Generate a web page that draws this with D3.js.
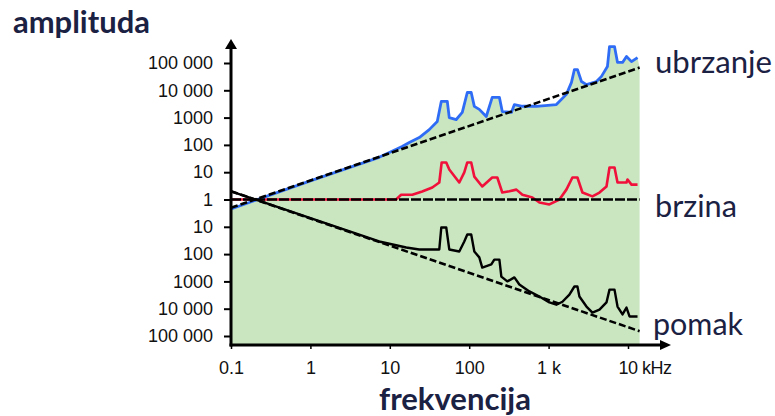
<!DOCTYPE html>
<html>
<head>
<meta charset="utf-8">
<script src="https://cdn.jsdelivr.net/npm/d3@7"></script>
<style>
  html, body { margin: 0; padding: 0; background: #ffffff; }
  svg { display: block; }
</style>
</head>
<body>
<svg id="chart" width="775" height="416"></svg>
<script>
// ---------------- data ----------------
const xTickValues = [0.1, 1, 10, 100, 1000, 10000];
const xTickLabels = ["0.1", "1", "10", "100", "1 k", "10 kHz"];
const yTickValues = [1e5, 1e4, 1e3, 1e2, 1e1, 1, 1e-1, 1e-2, 1e-3, 1e-4, 1e-5];
const yTickLabels = ["100 000", "10 000", "1000", "100", "10", "1", "10", "100", "1000", "10 000", "100 000"];

// measured acceleration (ubrzanje)
const accelFreq = [0.1, 1, 7.35, 14.3, 17.6, 23.5, 31.4, 39.6, 44.5, 53, 56.1, 68.7, 81.8, 94.6, 106, 116, 134, 164, 195, 240, 261, 340, 371, 468, 701, 1253, 1675, 1941, 2113, 2307, 2594, 2999, 4009, 4634, 5508, 5848, 6761, 7379, 8531, 9572, 11066, 13183];
const accelAmp  = [0.45, 4.8, 35, 87, 123, 186, 363, 724, 3900, 3900, 1000, 850, 1550, 8300, 8300, 2570, 2000, 1100, 5500, 5500, 1660, 1550, 3000, 2600, 2600, 3000, 7100, 19500, 57500, 57500, 21000, 16200, 21000, 32400, 74000, 400000, 400000, 105000, 105000, 174000, 112000, 158000];

// measured velocity (brzina)
const velFreq = [0.1, 12, 13.9, 19.2, 25.6, 34.3, 42, 45, 51.4, 56.1, 75, 86.7, 94.6, 106, 116, 146, 195, 226, 261, 321, 393, 468, 625, 766, 1023, 1368, 1675, 1995, 2307, 2667, 3565, 4375, 5358, 5848, 6761, 7379, 9572, 9863, 11066, 13183];
const velAmp  = [1, 1, 1.5, 1.5, 1.96, 2.75, 4.2, 22.7, 22.7, 12.6, 4.2, 9.8, 22.7, 22.7, 6.9, 3.0, 6.4, 6.4, 1.8, 2.0, 2.3, 1.5, 1.18, 0.78, 0.66, 1.0, 2.3, 6.4, 6.4, 1.8, 1.3, 1.8, 3.0, 14.8, 14.8, 4.2, 4.2, 5.4, 3.5, 3.5];

// measured displacement (pomak)
const dispFreq = [0.1, 7.35, 16.1, 23.5, 42, 44.5, 51.4, 56.1, 75, 86.7, 94.6, 106, 116, 134, 146, 190, 207, 240, 254, 302, 371, 428, 573, 766, 1023, 1253, 1493, 1828, 2113, 2307, 2444, 2999, 3565, 4375, 5358, 5848, 6761, 7379, 8531, 9572, 10450, 13183];
const dispAmp  = [2, 0.029, 0.0174, 0.0148, 0.0148, 0.094, 0.094, 0.0148, 0.0125, 0.029, 0.052, 0.052, 0.0125, 0.0076, 0.0032, 0.0042, 0.0063, 0.0063, 0.0015, 0.001, 0.0014, 0.00077, 0.00043, 0.00028, 0.00017, 0.00014, 0.00018, 0.00033, 0.00065, 0.00065, 0.00028, 0.00012, 0.000072, 0.000093, 0.00017, 0.0005, 0.0005, 0.00012, 0.000062, 0.00011, 0.000052, 0.000052];

// reference trend lines (dashed)
const trendFreq   = [0.1, 14000];
const accelTrend  = [0.5, 68000];
const velTrend    = [1, 1];
const dispTrend   = [2, 1.5e-5];

// end of the shaded band
const bandEndFreq = 14000;
const bandEndAmp  = 68000;

// ---------------- layout ----------------
const svg = d3.select("#chart");
const AXIS_X = 231, AXIS_Y = 345;

const x = d3.scaleLog().domain([0.1, 10000]).range([231, 628]);
const y = d3.scaleLog().domain([1e-5, 1e5]).range([336, 63]);

const zip = (fs, as) => fs.map((f, i) => ({ f, a: as[i] }));

// green band under the measured acceleration
const bandData = zip(accelFreq, accelAmp).concat([{ f: bandEndFreq, a: bandEndAmp }]);
svg.append("path")
  .datum(bandData)
  .attr("fill", "#c9e6c1")
  .attr("d", d3.area().x(d => x(d.f)).y0(AXIS_Y).y1(d => y(d.a)));

const line = d3.line().x(d => x(d.f)).y(d => y(d.a));

svg.append("path").datum(zip(velFreq, velAmp))
  .attr("fill", "none").attr("stroke", "#f0103a").attr("stroke-width", 2.6)
  .attr("stroke-linejoin", "round").attr("d", line);
svg.append("path").datum(zip(accelFreq, accelAmp))
  .attr("fill", "none").attr("stroke", "#2f6cf6").attr("stroke-width", 2.8)
  .attr("stroke-linejoin", "round").attr("d", line);
svg.append("path").datum(zip(dispFreq, dispAmp))
  .attr("fill", "none").attr("stroke", "#000").attr("stroke-width", 2.4)
  .attr("stroke-linejoin", "round").attr("d", line);

// dashed trends
[[accelTrend, "7,3"], [velTrend, "10,2"], [dispTrend, "7,3"]].forEach(([vals, dash]) => {
  svg.append("path").datum(zip(trendFreq, vals))
    .attr("fill", "none").attr("stroke", "#000").attr("stroke-width", 2.6)
    .attr("stroke-dasharray", dash).attr("d", line);
});

// ---------------- axes ----------------
const yAxis = d3.axisLeft(y).tickValues(yTickValues).tickSize(7).tickPadding(11)
  .tickFormat((d, i) => yTickLabels[i]);
const gy = svg.append("g").attr("transform", `translate(${AXIS_X},0)`).call(yAxis);
gy.select(".domain").remove();
gy.selectAll(".tick line").attr("stroke", "#000").attr("stroke-width", 2);
gy.selectAll(".tick text").attr("font-family", "Liberation Sans, Arial, sans-serif")
  .attr("font-size", 18).attr("fill", "#111");

const xAxis = d3.axisBottom(x).tickValues(xTickValues).tickSize(4).tickPadding(12)
  .tickFormat((d, i) => xTickLabels[i]);
const gx = svg.append("g").attr("transform", `translate(0,${AXIS_Y})`).call(xAxis);
gx.select(".domain").remove();
gx.selectAll(".tick line").attr("stroke", "#000").attr("stroke-width", 1.5);
gx.selectAll(".tick text").attr("font-family", "Liberation Sans, Arial, sans-serif")
  .attr("font-size", 18).attr("fill", "#111");
// keep "10" of "10 kHz" centred on its tick
gx.selectAll(".tick text").filter((d, i) => xTickLabels[i].indexOf("kHz") >= 0)
  .each(function () {
    const t = d3.select(this);
    const tmp = t.text();
    t.text("10");
    const w = this.getComputedTextLength();
    t.text(tmp).attr("text-anchor", "start").attr("x", -w / 2).attr("letter-spacing", "-0.5");
  });

// axis lines with arrow heads
svg.append("line").attr("x1", AXIS_X).attr("y1", AXIS_Y + 1.5).attr("x2", AXIS_X).attr("y2", 46)
  .attr("stroke", "#000").attr("stroke-width", 3);
svg.append("path").attr("d", `M${AXIS_X},39 L${AXIS_X - 6},49 L${AXIS_X + 6},49 Z`).attr("fill", "#000");
svg.append("line").attr("x1", AXIS_X - 1.5).attr("y1", AXIS_Y).attr("x2", 662).attr("y2", AXIS_Y)
  .attr("stroke", "#000").attr("stroke-width", 3);
svg.append("path").attr("d", `M671,${AXIS_Y} L660,${AXIS_Y - 5} L660,${AXIS_Y + 5} Z`).attr("fill", "#000");

// ---------------- text labels ----------------
function fitText(sel, width) {
  const node = sel.node();
  let fs = parseFloat(sel.attr("font-size"));
  for (let k = 0; k < 3; k++) {
    const w = node.getComputedTextLength();
    if (w > 0) fs = fs * width / w;
    sel.attr("font-size", fs.toFixed(2));
  }
}
const navy = "#1b2142";
const title = svg.append("text").attr("x", 13).attr("y", 33).text("amplituda")
  .attr("font-family", "Lato, 'Open Sans', sans-serif").attr("font-weight", 700)
  .attr("font-size", 22).attr("fill", navy);
fitText(title, 137);
const xtitle = svg.append("text").attr("x", 379).attr("y", 410).text("frekvencija")
  .attr("font-family", "Lato, 'Open Sans', sans-serif").attr("font-weight", 700)
  .attr("font-size", 22).attr("fill", navy);
fitText(xtitle, 152);

[["ubrzanje", 655, 73, 117], ["brzina", 655, 217, 82], ["pomak", 653, 335, 90]].forEach(([t, tx, ty, w]) => {
  const s = svg.append("text").attr("x", tx).attr("y", ty).text(t)
    .attr("font-family", "Lato, 'Open Sans', sans-serif").attr("font-size", 24).attr("fill", navy);
  fitText(s, w);
});
</script>
</body>
</html>
